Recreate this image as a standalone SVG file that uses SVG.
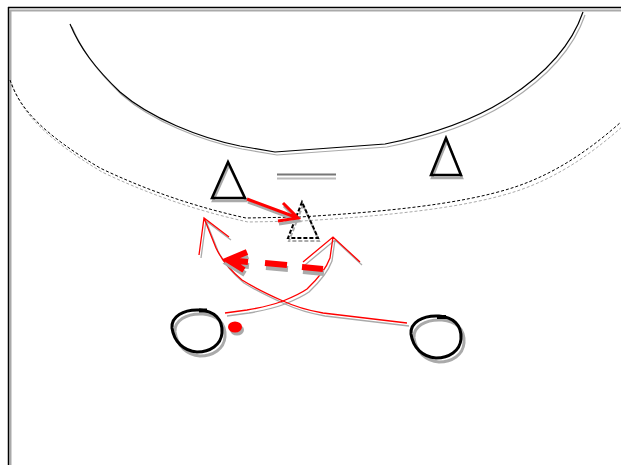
<svg xmlns="http://www.w3.org/2000/svg" width="621" height="465" viewBox="0 0 621 465">
<style>
.sh{stroke:#aaaaaa;fill:none}
.bk{stroke:#000;fill:none}
.rd{stroke:#ff0000;fill:none}
</style>
<defs>
<path id="pl" d="M200,310 C214,311 223,319 222,333 C221,345 210,352 197,352 C184,351 174,342 172,328 C171,317 183,309 200,310 Z"/>
</defs>
<rect width="621" height="465" fill="#fff"/>
<g id="frame">
<path class="sh" d="M10,10.5 H621 M10.5,10 V465" stroke-width="2"/>
<path class="bk" d="M8,7.5 H621 M8.5,7 V465" stroke-width="1.5"/>
</g>
<g id="area-line">
<path class="sh" stroke-width="1.2" transform="translate(2,3)" d="M70,24 C80,48 95,68 120,92 C150,118 200,138 240,146 L275,152 L385,144 C430,135 470,122 505,100 C540,78 570,50 583,12"/>
<path class="bk" stroke-width="1.2" d="M70,24 C80,48 95,68 120,92 C150,118 200,138 240,146 L275,152 L385,144 C430,135 470,122 505,100 C540,78 570,50 583,12"/>
</g>
<g id="dotted-line">
<path class="sh" stroke-width="1" stroke-dasharray="3,2" transform="translate(2,4)" d="M10,80 C20,110 45,135 100,168 C150,192 200,208 246,218 L300,217 C380,212 460,205 515,187 C560,172 595,145 621,122"/>
<path class="bk" stroke-width="1" stroke-dasharray="3,2" d="M10,80 C20,110 45,135 100,168 C150,192 200,208 246,218 L300,217 C380,212 460,205 515,187 C560,172 595,145 621,122"/>
</g>
<g id="mark">
<path d="M277,178.5 H336" stroke="#bbbbbb" stroke-width="2"/>
<path d="M277,174.5 H336" stroke="#777777" stroke-width="2"/>
</g>
<g id="cone-left">
<path class="sh" stroke-width="2.5" transform="translate(1,3)" d="M228,162 L212,198 L245,198 Z"/>
<path class="bk" stroke-width="2.5" d="M228,162 L212,198 L245,198 Z"/>
</g>
<g id="cone-right">
<path class="sh" stroke-width="2.5" transform="translate(1,3)" d="M446,138 L431,175 L461,175 Z"/>
<path class="bk" stroke-width="2.5" d="M446,138 L431,175 L461,175 Z"/>
</g>
<g id="cone-dashed">
<path class="sh" stroke-width="2" stroke-dasharray="4,2" transform="translate(1,3)" d="M302,202 L288,238 L318,238 Z"/>
<path class="bk" stroke-width="2" stroke-dasharray="4,2" d="M302,202 L288,238 L318,238 Z"/>
</g>
<g id="player-left">
<use href="#pl" class="sh" stroke-width="3" transform="translate(3,4)"/>
<use href="#pl" class="bk" stroke-width="3"/>
<path d="M199,310.5 H207" stroke="#000" stroke-width="4"/>
</g>
<g id="player-right">
<use href="#pl" class="sh" stroke-width="3" transform="translate(242,10)"/>
<use href="#pl" class="bk" stroke-width="3" transform="translate(239,6)"/>
<path d="M437,317 H446" stroke="#000" stroke-width="4"/>
</g>
<g id="ball">
<ellipse cx="237" cy="330" rx="7" ry="5.5" fill="#aaaaaa"/>
<ellipse cx="235" cy="327" rx="7" ry="5.5" fill="#ff0000"/>
</g>
<g id="connectors">
<g transform="translate(2,3)" class="sh" stroke-width="1.3">
<path d="M407,323 L323,313 Q300,309 283,301 Q258,290 242,280 Q224,265 216,248 L204,218 M199,255 L204,218 L229,237"/>
<path d="M225,313 L247,310 Q270,306 283,301 Q300,294 307,289 Q325,272 330,258 L333,237 M303,262 L333,237 L360,262"/>
</g>
<path class="rd" stroke-width="1.3" d="M407,323 L323,313 Q300,309 283,301 Q258,290 242,280 Q224,265 216,248 L204,218 M199,255 L204,218 L229,237"/>
<path class="rd" stroke-width="1.3" d="M225,313 L247,310 Q270,306 283,301 Q300,294 307,289 Q325,272 330,258 L333,237 M303,262 L333,237 L360,262"/>
<path class="sh" stroke-width="3" transform="translate(1,3)" d="M247,199 L298,218 M283,203 L298,218 L278,221"/>
<path class="rd" stroke-width="3" d="M247,199 L298,218 M283,203 L298,218 L278,221"/>
<path class="sh" stroke-width="6" transform="translate(1,4)" d="M323,269 L302,267 M287,265 L265,263 M248,262 L228,260 M247,252 L228,260 L244,270"/>
<path class="rd" stroke-width="6" d="M323,269 L302,267 M287,265 L265,263 M248,262 L228,260 M247,252 L228,260 L244,270"/>
</g>
</svg>
